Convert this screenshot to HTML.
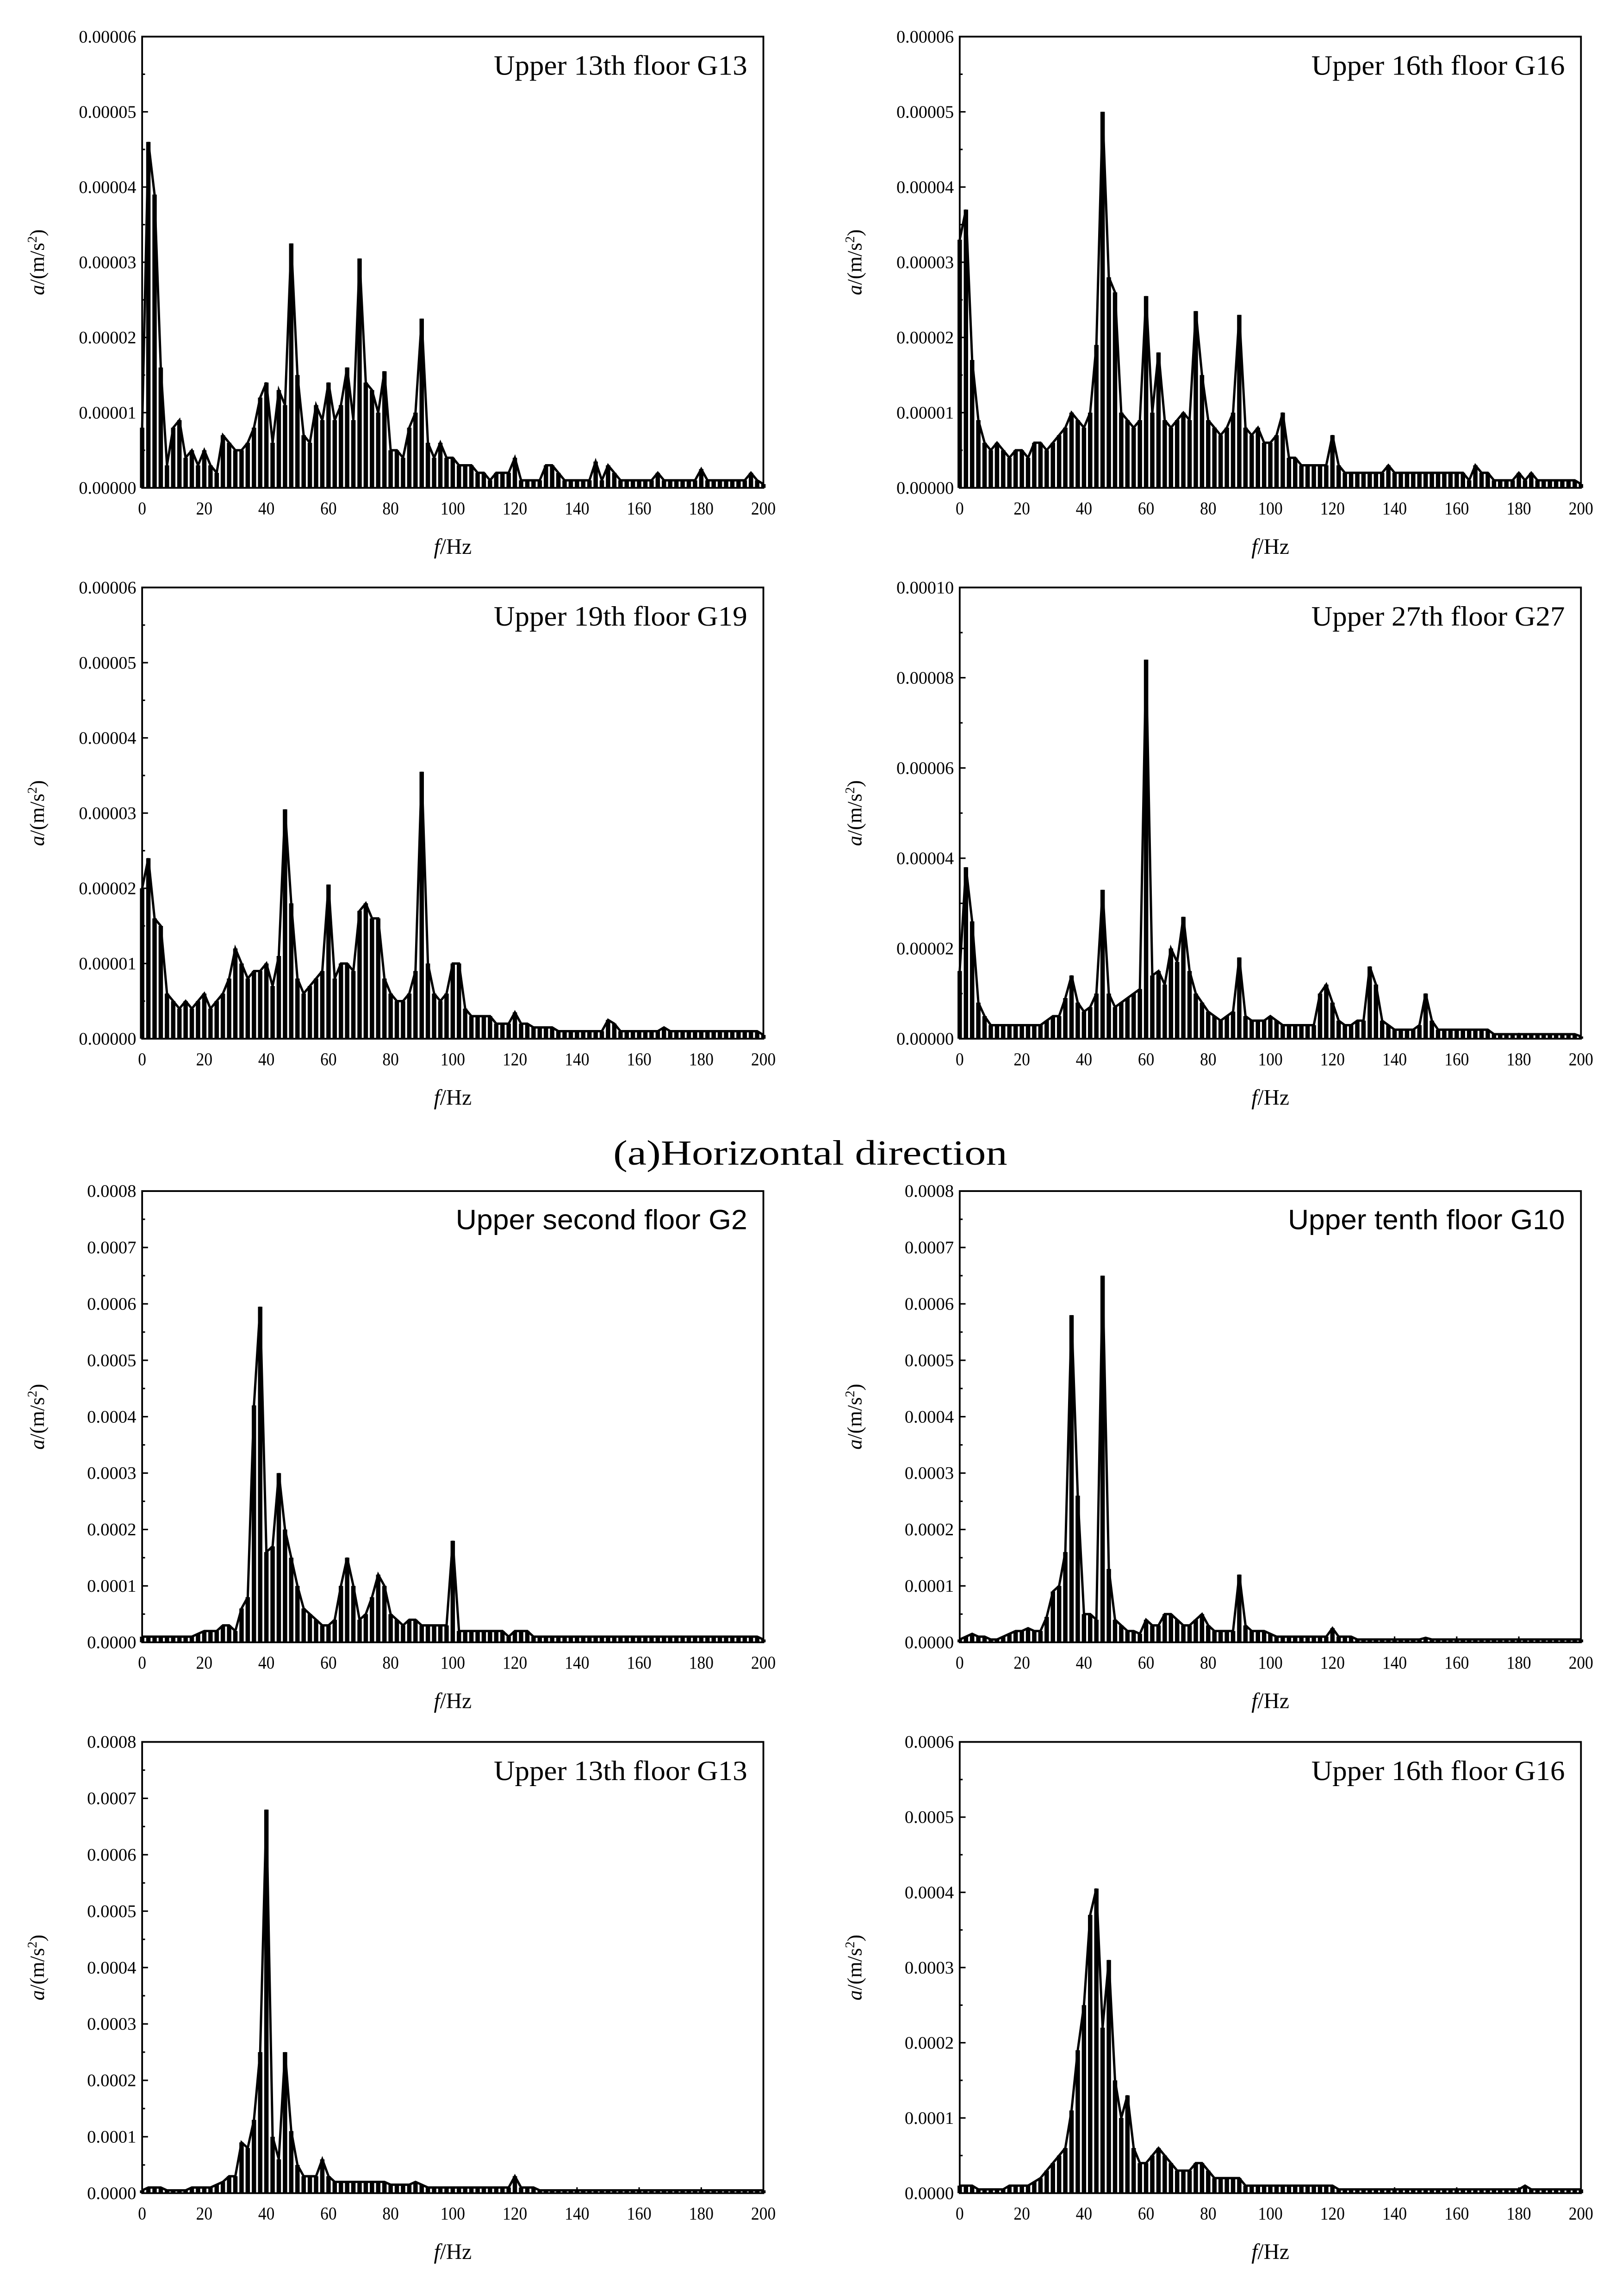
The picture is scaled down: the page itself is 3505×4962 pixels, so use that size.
<!DOCTYPE html>
<html><head><meta charset="utf-8"><style>
html,body{margin:0;padding:0;background:#fff;}
svg{display:block;}
text{font-family:"Liberation Serif",serif;fill:#000;}
</style></head><body>
<svg id="fig" width="3505" height="4962" viewBox="0 0 1107 1567.2" xmlns="http://www.w3.org/2000/svg">
<rect width="1107" height="1567.2" fill="#fff"/>
<text x="553" y="795" text-anchor="middle" font-size="24" textLength="269" lengthAdjust="spacingAndGlyphs">(a)Horizontal direction</text>
</svg>
<script>
// frequency bins 0..200 step 2
const freqs = [];
for (let f = 0; f <= 200; f += 2) freqs.push(f);
const xTicks = [0,20,40,60,80,100,120,140,160,180,200];

const valsG13h = [0.8,4.6,3.9,1.6,0.3,0.8,0.9,0.4,0.5,0.3,0.5,0.3,0.2,0.7,0.6,0.5,0.5,0.6,0.8,1.2,1.4,0.6,1.3,1.1,3.25,1.5,0.7,0.6,1.1,0.9,1.4,0.9,1.1,1.6,0.9,3.05,1.4,1.3,1.0,1.55,0.5,0.5,0.4,0.8,1.0,2.25,0.6,0.4,0.6,0.4,0.4,0.3,0.3,0.3,0.2,0.2,0.1,0.2,0.2,0.2,0.4,0.1,0.1,0.1,0.1,0.3,0.3,0.2,0.1,0.1,0.1,0.1,0.1,0.35,0.1,0.3,0.2,0.1,0.1,0.1,0.1,0.1,0.1,0.2,0.1,0.1,0.1,0.1,0.1,0.1,0.25,0.1,0.1,0.1,0.1,0.1,0.1,0.1,0.2,0.1,0.05];
const valsG16h = [3.3,3.7,1.7,0.9,0.6,0.5,0.6,0.5,0.4,0.5,0.5,0.4,0.6,0.6,0.5,0.6,0.7,0.8,1.0,0.9,0.8,1.0,1.9,5.0,2.8,2.6,1.0,0.9,0.8,0.9,2.55,1.0,1.8,0.9,0.8,0.9,1.0,0.9,2.35,1.5,0.9,0.8,0.7,0.8,1.0,2.3,0.8,0.7,0.8,0.6,0.6,0.7,1.0,0.4,0.4,0.3,0.3,0.3,0.3,0.3,0.7,0.3,0.2,0.2,0.2,0.2,0.2,0.2,0.2,0.3,0.2,0.2,0.2,0.2,0.2,0.2,0.2,0.2,0.2,0.2,0.2,0.2,0.1,0.3,0.2,0.2,0.1,0.1,0.1,0.1,0.2,0.1,0.2,0.1,0.1,0.1,0.1,0.1,0.1,0.1,0.05];
const valsG19h = [2.0,2.4,1.6,1.5,0.6,0.5,0.4,0.5,0.4,0.5,0.6,0.4,0.5,0.6,0.8,1.2,1.0,0.8,0.9,0.9,1.0,0.7,1.1,3.05,1.8,0.8,0.6,0.7,0.8,0.9,2.05,0.8,1.0,1.0,0.9,1.7,1.8,1.6,1.6,0.8,0.6,0.5,0.5,0.6,0.9,3.55,1.0,0.6,0.5,0.6,1.0,1.0,0.4,0.3,0.3,0.3,0.3,0.2,0.2,0.2,0.35,0.2,0.2,0.15,0.15,0.15,0.15,0.1,0.1,0.1,0.1,0.1,0.1,0.1,0.1,0.25,0.2,0.1,0.1,0.1,0.1,0.1,0.1,0.1,0.15,0.1,0.1,0.1,0.1,0.1,0.1,0.1,0.1,0.1,0.1,0.1,0.1,0.1,0.1,0.1,0.05];
const valsG27h = [1.5,3.8,2.6,0.8,0.5,0.3,0.3,0.3,0.3,0.3,0.3,0.3,0.3,0.3,0.4,0.5,0.5,0.9,1.4,0.8,0.6,0.7,1.0,3.3,1.0,0.7,0.8,0.9,1.0,1.1,8.4,1.4,1.5,1.2,2.0,1.7,2.7,1.5,1.0,0.8,0.6,0.5,0.4,0.5,0.6,1.8,0.5,0.4,0.4,0.4,0.5,0.4,0.3,0.3,0.3,0.3,0.3,0.3,1.0,1.2,0.8,0.4,0.3,0.3,0.4,0.4,1.6,1.2,0.4,0.3,0.2,0.2,0.2,0.2,0.3,1.0,0.4,0.2,0.2,0.2,0.2,0.2,0.2,0.2,0.2,0.2,0.1,0.1,0.1,0.1,0.1,0.1,0.1,0.1,0.1,0.1,0.1,0.1,0.1,0.1,0.05];
const valsG2v = [0.1,0.1,0.1,0.1,0.1,0.1,0.1,0.1,0.1,0.15,0.2,0.2,0.2,0.3,0.3,0.2,0.6,0.8,4.2,5.95,1.6,1.7,3.0,2.0,1.5,1.0,0.6,0.5,0.4,0.3,0.3,0.4,1.0,1.5,1.0,0.4,0.5,0.8,1.2,1.0,0.5,0.4,0.3,0.4,0.4,0.3,0.3,0.3,0.3,0.3,1.8,0.2,0.2,0.2,0.2,0.2,0.2,0.2,0.2,0.1,0.2,0.2,0.2,0.1,0.1,0.1,0.1,0.1,0.1,0.1,0.1,0.1,0.1,0.1,0.1,0.1,0.1,0.1,0.1,0.1,0.1,0.1,0.1,0.1,0.1,0.1,0.1,0.1,0.1,0.1,0.1,0.1,0.1,0.1,0.1,0.1,0.1,0.1,0.1,0.1,0.05];
const valsG10v = [0.05,0.1,0.15,0.1,0.1,0.05,0.05,0.1,0.15,0.2,0.2,0.25,0.2,0.2,0.45,0.9,1.0,1.6,5.8,2.6,0.5,0.5,0.4,6.5,1.3,0.4,0.3,0.2,0.2,0.15,0.4,0.3,0.3,0.5,0.5,0.4,0.3,0.3,0.4,0.5,0.3,0.2,0.2,0.2,0.2,1.2,0.3,0.2,0.2,0.2,0.15,0.1,0.1,0.1,0.1,0.1,0.1,0.1,0.1,0.1,0.25,0.1,0.1,0.1,0.05,0.05,0.05,0.05,0.05,0.05,0.05,0.05,0.05,0.05,0.05,0.08,0.05,0.05,0.05,0.05,0.05,0.05,0.05,0.05,0.05,0.05,0.05,0.05,0.05,0.05,0.05,0.05,0.05,0.05,0.05,0.05,0.05,0.05,0.05,0.05,0.05];
const valsG13v = [0.05,0.1,0.1,0.1,0.05,0.05,0.05,0.05,0.1,0.1,0.1,0.1,0.15,0.2,0.3,0.3,0.9,0.8,1.3,2.5,6.8,1.0,0.6,2.5,1.1,0.5,0.3,0.3,0.3,0.6,0.3,0.2,0.2,0.2,0.2,0.2,0.2,0.2,0.2,0.2,0.15,0.15,0.15,0.15,0.2,0.15,0.1,0.1,0.1,0.1,0.1,0.1,0.1,0.1,0.1,0.1,0.1,0.1,0.1,0.1,0.3,0.1,0.1,0.1,0.05,0.05,0.05,0.05,0.05,0.05,0.05,0.05,0.05,0.05,0.05,0.05,0.05,0.05,0.05,0.05,0.05,0.05,0.05,0.05,0.05,0.05,0.05,0.05,0.05,0.05,0.05,0.05,0.05,0.05,0.05,0.05,0.05,0.05,0.05,0.05,0.05];
const valsG16v = [0.1,0.1,0.1,0.05,0.05,0.05,0.05,0.05,0.1,0.1,0.1,0.1,0.15,0.2,0.3,0.4,0.5,0.6,1.1,1.9,2.5,3.7,4.05,2.2,3.1,1.5,1.0,1.3,0.6,0.4,0.4,0.5,0.6,0.5,0.4,0.3,0.3,0.3,0.4,0.4,0.3,0.2,0.2,0.2,0.2,0.2,0.1,0.1,0.1,0.1,0.1,0.1,0.1,0.1,0.1,0.1,0.1,0.1,0.1,0.1,0.1,0.05,0.05,0.05,0.05,0.05,0.05,0.05,0.05,0.05,0.05,0.05,0.05,0.05,0.05,0.05,0.05,0.05,0.05,0.05,0.05,0.05,0.05,0.05,0.05,0.05,0.05,0.05,0.05,0.05,0.05,0.1,0.05,0.05,0.05,0.05,0.05,0.05,0.05,0.05,0.05];

const yTicksH6 = ["0.00000","0.00001","0.00002","0.00003","0.00004","0.00005","0.00006"];
const yTicksH10 = ["0.00000","0.00002","0.00004","0.00006","0.00008","0.00010"];
const yTicksV8 = ["0.0000","0.0001","0.0002","0.0003","0.0004","0.0005","0.0006","0.0007","0.0008"];
const yTicksV6 = ["0.0000","0.0001","0.0002","0.0003","0.0004","0.0005","0.0006"];

const panels = [
 {name:'g13-horizontal',x:97,y:25,vals:valsG13h,ymax:6,ticks:yTicksH6,title:'Upper 13th floor G13',sans:false,tl:173},
 {name:'g16-horizontal',x:655,y:25,vals:valsG16h,ymax:6,ticks:yTicksH6,title:'Upper 16th floor G16',sans:false,tl:173},
 {name:'g19-horizontal',x:97,y:401,vals:valsG19h,ymax:6,ticks:yTicksH6,title:'Upper 19th floor G19',sans:false,tl:173},
 {name:'g27-horizontal',x:655,y:401,vals:valsG27h,ymax:10,ticks:yTicksH10,title:'Upper 27th floor G27',sans:false,tl:173},
 {name:'g2-vertical',x:97,y:813,vals:valsG2v,ymax:8,ticks:yTicksV8,title:'Upper second floor G2',sans:true,tl:199},
 {name:'g10-vertical',x:655,y:813,vals:valsG10v,ymax:8,ticks:yTicksV8,title:'Upper tenth floor G10',sans:true,tl:189},
 {name:'g13-vertical',x:97,y:1189,vals:valsG13v,ymax:8,ticks:yTicksV8,title:'Upper 13th floor G13',sans:false,tl:173},
 {name:'g16-vertical',x:655,y:1189,vals:valsG16v,ymax:6,ticks:yTicksV6,title:'Upper 16th floor G16',sans:false,tl:173}
];
const W = 424, H = 308;
const svg = document.getElementById('fig');
const NS = 'http://www.w3.org/2000/svg';
function mk(tag, attrs, parent){ const e=document.createElementNS(NS,tag); for(const k in attrs) e.setAttribute(k,attrs[k]); parent.appendChild(e); return e; }

panels.forEach(p => {
  const g = mk('g',{},svg);
  
  
  const xs = f => p.x + f/200*W;
  const ys = v => p.y + H - v/p.ymax*H;
  const sticks = mk('g',{stroke:'#000','stroke-width':'3'},g);
  
  
  let pts = [];
  freqs.forEach((f,i) => {
    const v = p.vals[i];
    mk('line',{x1:xs(f),x2:xs(f),y1:ys(0),y2:ys(v)},sticks);
    pts.push(xs(f).toFixed(2)+','+ys(v).toFixed(2));
  });
  const line = mk('polyline',{points:pts.join(' '),fill:'none',stroke:'#000','stroke-width':'1.6'},g);
  
  
  const fr = mk('rect',{x:p.x,y:p.y,width:W,height:H,fill:'none',stroke:'#000','stroke-width':'1.2'},g);
  
  
  xTicks.forEach(t => {
    mk('line',{x1:xs(t),x2:xs(t),y1:p.y+H,y2:p.y+H-4,stroke:'#000','stroke-width':'1'},g);
    if (t<200) mk('line',{x1:xs(t+10),x2:xs(t+10),y1:p.y+H,y2:p.y+H-2,stroke:'#000','stroke-width':'1'},g);
    const tx = mk('text',{x:xs(t),y:p.y+H+18,'text-anchor':'middle','font-size':'12.5','textLength':(String(t).length*5.6),'lengthAdjust':'spacingAndGlyphs'},g);
    tx.textContent = t;
    
    
  });
  const n = p.ticks.length-1;
  p.ticks.forEach((lab,i) => {
    const yy = p.y + H - i/n*H;
    mk('line',{x1:p.x,x2:p.x+4,y1:yy,y2:yy,stroke:'#000','stroke-width':'1'},g);
    if (i<n) { const ym = p.y + H - (i+0.5)/n*H; mk('line',{x1:p.x,x2:p.x+2,y1:ym,y2:ym,stroke:'#000','stroke-width':'1'},g); }
    const ty = mk('text',{x:p.x-4,y:yy+4,'text-anchor':'end','font-size':'12','textLength':(lab.length*5.6),'lengthAdjust':'spacingAndGlyphs'},g);
    ty.textContent = lab;
    
    
  });
  const xt = mk('text',{x:p.x+W/2,y:p.y+H+45,'text-anchor':'middle','font-size':'15'},g);
  xt.innerHTML = '<tspan font-style="italic">f</tspan>/Hz';
  
  
  const cx = p.x-67, cy = p.y+H/2;
  const yt = mk('text',{x:cx,y:cy,'text-anchor':'middle','font-size':'14',transform:'rotate(-90 '+cx+' '+cy+')'},g);
  yt.innerHTML = '<tspan font-style="italic">a</tspan>/(m/s<tspan font-size="9" dy="-5">2</tspan><tspan dy="5">)</tspan>';
  
  
  const tt = mk('text',{x:p.x+W-11,y:p.y+26,'text-anchor':'end','font-size':'19','textLength':p.tl,'lengthAdjust':'spacingAndGlyphs'},g);
  if (p.sans) tt.setAttribute('style','font-family:"Liberation Sans",sans-serif');
  tt.textContent = p.title;
  
  
});
</script>
</body></html>
